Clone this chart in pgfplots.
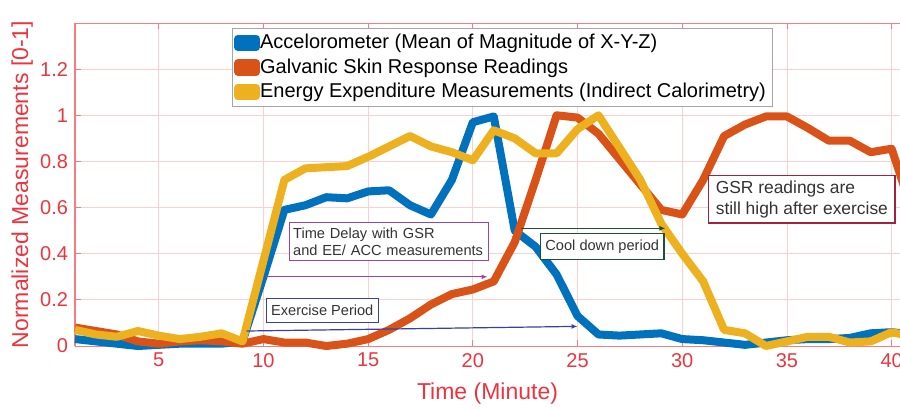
\documentclass[border=0pt]{standalone}
\usepackage{fontspec}
\setmainfont{Liberation Sans}
\usepackage{pgfplots}
\pgfplotsset{compat=1.18}
\usetikzlibrary{arrows.meta}

\definecolor{mblue}{rgb}{0,0.447,0.741}
\definecolor{morange}{rgb}{0.85,0.325,0.098}
\definecolor{myellow}{rgb}{0.929,0.694,0.125}
\definecolor{axred}{RGB}{236,52,62}
\definecolor{spine}{RGB}{245,125,125}
\definecolor{gridc}{RGB}{250,208,208}
\definecolor{boxpurple}{RGB}{150,70,170}
\definecolor{boxblue}{RGB}{55,65,160}
\definecolor{boxgreen}{RGB}{30,80,50}
\definecolor{boxred}{RGB}{160,35,65}

\begin{document}
\begin{tikzpicture}[x=1pt,y=1pt]
\useasboundingbox (-37.5,-31) rectangle (412.5,173);
\begin{axis}[
    at={(0,0)}, anchor=south west,
    width=412.5pt, height=161.5pt, scale only axis,
    xmin=1, xmax=40.4,
    ymin=0, ymax=1.4,
    xtick={5,10,15,20,25,30,35,40},
    ytick={0,0.2,0.4,0.6,0.8,1,1.2},
    xtick pos=both, ytick pos=left,
    tick align=inside,
    major tick length=3pt,
    tick style={spine, line width=0.4pt},
    axis line style={draw=none},
    grid=major,
    major grid style={gridc, line width=0.4pt},
    clip=false,
    /pgf/number format/assume math mode=true,
    ticklabel style={font=\fontsize{10}{12}\selectfont, text=axred},
    xlabel={Time (Minute)},
    ylabel={Normalized Measurements [0-1]},
    label style={font=\fontsize{11.5}{13}\selectfont, text=axred},
    xlabel style={at={(axis description cs:0.5,-0.146)}, anchor=center},
    ylabel style={at={(axis description cs:-0.064,0.5)}, anchor=center},
    legend style={at={(rel axis cs:0.19,0.985)}, anchor=north west,
        draw=gray!70, fill=white, font=\fontsize{10}{12}\selectfont,
        inner xsep=1pt, inner ysep=1pt, row sep=-0.5pt, column sep=0pt,
        cells={anchor=west, inner xsep=0.5pt}},
    legend image code/.code={%
        \fill[#1, overlay] (0.8pt,-2.2pt) rectangle (9pt,2.2pt);
        \path (0pt,-2.2pt) rectangle (7pt,2.2pt);},
]

% axis frame: the right side is cut off in the original
\draw[spine, line width=0.5pt] (rel axis cs:0,0) -- (rel axis cs:1,0);
\draw[spine, line width=0.5pt] (rel axis cs:0,0) -- (rel axis cs:0,1) -- (rel axis cs:1,1);

\addplot[mblue, line width=4pt, line join=round] coordinates {
(1,0.03)(2,0.02)(3,0.01)(4,0.0)(5,0.005)(6,0.01)(7,0.01)(8,0.01)(9,0.02)
(10,0.30)(11,0.59)(12,0.61)(13,0.645)(14,0.64)(15,0.67)(16,0.675)(17,0.61)
(18,0.57)(19,0.72)(20,0.97)(21,0.995)(22,0.50)(23,0.43)(24,0.31)(25,0.13)
(26,0.05)(27,0.045)(28,0.05)(29,0.055)(30,0.03)(31,0.025)(32,0.015)(33,0.005)
(34,0.015)(35,0.025)(36,0.03)(37,0.03)(38,0.035)(39,0.055)(40,0.06)(41,0.05)
};
\addlegendentry{Accelorometer (Mean of Magnitude of X-Y-Z)}

\addplot[morange, line width=4pt, line join=round] coordinates {
(1,0.08)(2,0.065)(3,0.05)(4,0.02)(5,0.01)(6,0.02)(7,0.025)(8,0.02)(9,0.01)
(10,0.03)(11,0.015)(12,0.015)(13,0.0)(14,0.01)(15,0.03)(16,0.07)(17,0.12)
(18,0.18)(19,0.225)(20,0.245)(21,0.28)(22,0.45)(23,0.72)(24,1.0)(25,0.99)
(26,0.92)(27,0.81)(28,0.70)(29,0.59)(30,0.57)(31,0.72)(32,0.91)(33,0.96)
(34,0.995)(35,0.995)(36,0.945)(37,0.89)(38,0.89)(39,0.84)(40,0.855)(41,0.58)
};
\addlegendentry{Galvanic Skin Response Readings}

\addplot[myellow, line width=4pt, line join=round] coordinates {
(1,0.07)(2,0.05)(3,0.04)(4,0.065)(5,0.045)(6,0.03)(7,0.04)(8,0.055)(9,0.02)
(10,0.37)(11,0.72)(12,0.77)(13,0.775)(14,0.78)(15,0.82)(16,0.865)(17,0.91)
(18,0.865)(19,0.84)(20,0.805)(21,0.935)(22,0.90)(23,0.835)(24,0.835)(25,0.94)
(26,1.0)(27,0.86)(28,0.72)(29,0.53)(30,0.40)(31,0.28)(32,0.07)(33,0.055)
(34,0.0)(35,0.02)(36,0.04)(37,0.04)(38,0.015)(39,0.02)(40,0.06)(41,0.04)
};
\addlegendentry{Energy Expenditure Measurements (Indirect Calorimetry)}

% annotations
\draw[boxpurple, line width=0.6pt, -{Latex[length=3pt,width=2.5pt]}]
    (axis cs:10.1,0.30) -- (axis cs:20.7,0.30);
\draw[boxblue, line width=0.6pt, -{Latex[length=3pt,width=2.5pt]}]
    (axis cs:9.2,0.065) -- (axis cs:25,0.085);
\draw[boxgreen, line width=0.6pt, -{Latex[length=3pt,width=2.5pt]}]
    (axis cs:22.3,0.51) -- (axis cs:29.2,0.51);

\node[draw=boxpurple, fill=white, line width=0.6pt, anchor=north west,
    inner xsep=2pt, inner ysep=2.5pt, text width=95.5pt, align=left,
    text=black!80, font=\fontsize{7.3}{8.7}\selectfont]
    at (axis cs:11.2,0.537) {Time Delay with GSR\\and EE/ ACC measurements};
\node[draw=boxblue, fill=white, line width=0.6pt, anchor=north west,
    inner xsep=2.5pt, inner ysep=2.5pt, minimum height=12pt,
    text=black!80, font=\fontsize{7.3}{8.7}\selectfont]
    at (axis cs:10.1,0.208) {Exercise Period};
\node[draw=boxgreen, fill=white, line width=0.6pt, anchor=north west,
    inner xsep=2.5pt, inner ysep=2.5pt, minimum height=13pt,
    text=black!80, font=\fontsize{7.3}{8.7}\selectfont]
    at (axis cs:23.2,0.49) {Cool down period};
\node[draw=boxred, fill=white, line width=0.6pt, anchor=north west,
    inner xsep=3.5pt, inner ysep=2.5pt, align=left,
    text=black!80, font=\fontsize{8.7}{10.5}\selectfont]
    at (axis cs:31.24,0.74) {GSR readings are\\still high after exercise};

\end{axis}
\end{tikzpicture}
\end{document}
